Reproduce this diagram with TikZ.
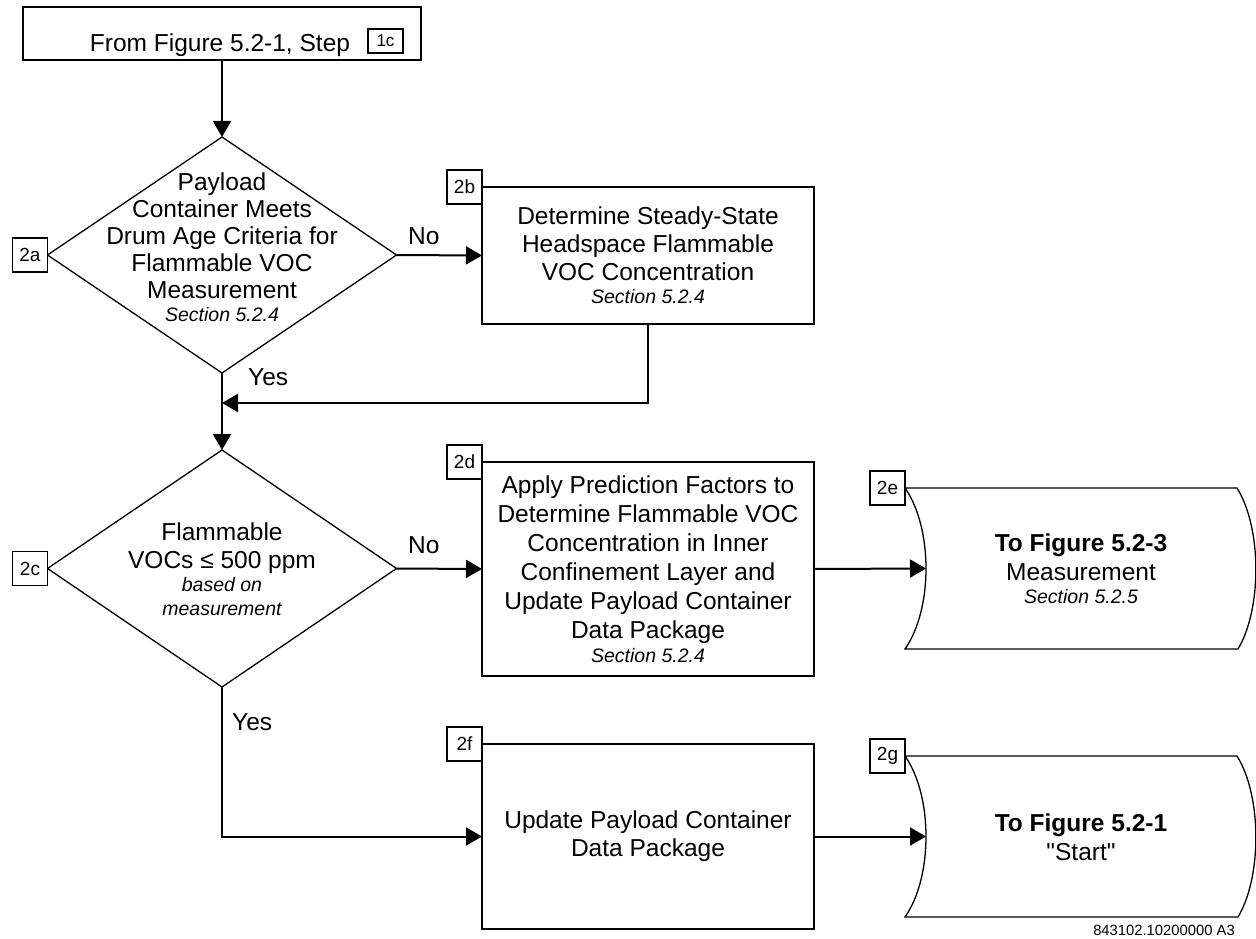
\documentclass[tikz,border=0pt]{standalone}
\usepackage{fontspec}
\setmainfont{Liberation Sans}
\newfontfamily\qfont{Liberation Sans}[Ligatures=TeXOff]
\usetikzlibrary{arrows.meta,shapes.geometric}
\newcommand\fbig{\fontsize{24.5pt}{28pt}\selectfont}
\newcommand\fsml{\fontsize{19.5pt}{23pt}\selectfont}
\newcommand\flbl{\fontsize{19pt}{22pt}\selectfont}
\newcommand\ffoot{\fontsize{14.8pt}{17pt}\selectfont}
\begin{document}
\begin{tikzpicture}[x=1pt,y=-1pt,
  shp/.style={draw, line width=1.3pt, inner sep=0pt, outer sep=0pt},
  boxn/.style={shp, rectangle, align=center, font=\fbig, minimum width=332pt},
  dia/.style={shp, diamond, minimum width=349pt, minimum height=236pt},
  txt/.style={align=center, font=\fbig, inner sep=0pt},
  lbl/.style={shp, fill=white, rectangle, font=\flbl, minimum width=35pt, minimum height=34pt},
  arr/.style={line width=2pt, -{Triangle[length=16pt,width=18pt]}},
  yn/.style={font=\fbig, inner sep=0pt, anchor=base west}]
\useasboundingbox (0,0) rectangle (1256,939);

% top box
\node[shp, rectangle, minimum width=398pt, minimum height=53pt] (top) at (222,33.5) {};
\node[font=\fbig, inner sep=0pt, anchor=base] (toptxt) at (220,52) {From Figure 5.2-1, Step};
\node[shp, rectangle, font=\fontsize{17pt}{19pt}\selectfont, minimum width=35pt, minimum height=24pt] (l1c) at (385.5,41) {1c};

% diamond 2a
\node[dia] (d2a) at (222,255) {};
\node[txt] (t2a) at (222,247.5) {Payload\\[-1pt]Container Meets\\[-1pt]Drum Age Criteria for\\[-1pt]Flammable VOC\\[-1pt]Measurement\\[-5pt]{\fsml\itshape Section 5.2.4}};
\node[lbl, anchor=east] (l2a) at (d2a.west) {2a};

% box 2b
\node[boxn, minimum height=137pt] (b2) at (648,255.5) {Determine Steady-State\\Headspace Flammable\\VOC Concentration\\[-5pt]{\fsml\itshape Section 5.2.4}};
\node[lbl, anchor=east] (l2b) at (b2.north west) {2b};

% diamond 2c
\node[dia, minimum height=237pt] (d2c) at (222,568.5) {};
\node[txt] (t2c) at (222,569) {Flammable\\VOCs ≤ 500 ppm\\[-5pt]{\fsml\itshape based on}\\[-4pt]{\fsml\itshape measurement}};
\node[lbl, anchor=east] (l2c) at (d2c.west) {2c};

% box 2d
\node[boxn, minimum height=214pt] (b2d) at (648,569) {Apply Prediction Factors to\\[1pt]Determine Flammable VOC\\[1pt]Concentration in Inner\\[1pt]Confinement Layer and\\[1pt]Update Payload Container\\[1pt]Data Package\\[-4pt]{\fsml\itshape Section 5.2.4}};
\node[lbl, anchor=east] (l2d) at (b2d.north west) {2d};

% box 2f
\node[boxn, minimum height=185pt] (b2f) at (648,836.5) {Update Payload Container\\Data Package};
\node[lbl, anchor=east] (l2f) at (b2f.north west) {2f};

% off-page 2e
\draw[line width=1.3pt] (905,488) -- (1237,488) .. controls (1262,528) and (1262,609) .. (1238,649) -- (905,649) .. controls (933,609) and (933,528) .. cycle;
\coordinate (e2in) at (926,568.5);
\node[txt] (t2e) at (1081,569) {{\bfseries To Figure 5.2-3}\\[1pt]Measurement\\[-5pt]{\fsml\itshape Section 5.2.5}};
\node[lbl, anchor=east] (l2e) at (905,488) {2e};

% off-page 2g
\draw[line width=1.3pt] (905,756) -- (1237,756) .. controls (1262,796) and (1262,877) .. (1238,917) -- (905,917) .. controls (933,877) and (933,796) .. cycle;
\coordinate (g2in) at (926,836.5);
\node[txt] (t2g) at (1081,837) {{\bfseries To Figure 5.2-1}\\[1pt]{\qfont "Start"}};
\node[lbl, anchor=east] (l2g) at (905,756) {2g};

% footer
\node[font=\ffoot, inner sep=0pt, anchor=base east] (foot) at (1235,935) {843102.10200000 A3};

% connectors
\coordinate (m1) at (222,403);
\draw[arr] (top.south) -- (d2a.north);
\draw[arr] (d2a.east) -- (b2.west);
\draw[arr] (d2a.south) -- (d2c.north);
\draw[arr] (b2.south) |- (m1);
\draw[arr] (d2c.east) -- (b2d.west);
\draw[arr] (b2d.east) -- (e2in);
\draw[arr] (d2c.south) |- (b2f.west);
\draw[arr] (b2f.east) -- (g2in);

% branch labels
\node[yn] (no1) at (408,244) {No};
\node[yn] (yes1) at (248,385) {Yes};
\node[yn] (no2) at (408,553) {No};
\node[yn] (yes2) at (232,730) {Yes};
\end{tikzpicture}
\end{document}
